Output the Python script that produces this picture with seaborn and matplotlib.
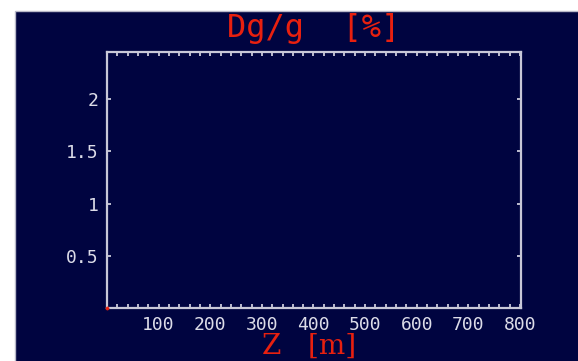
import matplotlib
matplotlib.use("Agg")
import matplotlib.pyplot as plt
from matplotlib.patches import Rectangle
from matplotlib.ticker import MultipleLocator, FixedLocator
import numpy as np
import pandas as pd
import seaborn as sns

# data
z_values = [0.0]
dg_values = [0.0]
x_ticks = [100, 200, 300, 400, 500, 600, 700, 800]
y_ticks = [0.5, 1, 1.5, 2]
y_tick_labels = ["0.5", "1", "1.5", "2"]
title_text = "Dg/g  [%]"
xlabel_text = "Z   [m]"

NAVY = "#000440"
RED = "#e8200f"
FG = "#dcdce8"

sns.set_style("dark", {"axes.facecolor": NAVY, "figure.facecolor": "white"})
plt.rcParams["font.family"] = ["DejaVu Sans Mono", "DejaVu Sans"]

fig = plt.figure(figsize=(5.78, 3.61), dpi=100)
fig.patches.append(Rectangle((15 / 578, -0.1), 1.0, 0.1 + 350 / 361,
                             transform=fig.transFigure, facecolor=NAVY,
                             edgecolor="#b8b8c8", linewidth=1.0, zorder=-10))

ax = fig.add_axes([107 / 578, (361 - 308) / 361, 414 / 578, 256 / 361])
ax.set_zorder(5)
ax.set_facecolor(NAVY)

df = pd.DataFrame({"Z": z_values, "Dg": dg_values})
sns.scatterplot(data=df, x="Z", y="Dg", ax=ax, color=RED, s=6,
                edgecolor=RED, clip_on=False, zorder=5, legend=False)

ax.set_xlim(0, 802)
ax.set_ylim(0, 2.45)
ax.grid(False)

ax.xaxis.set_major_locator(FixedLocator(x_ticks))
ax.xaxis.set_minor_locator(MultipleLocator(20))
ax.yaxis.set_major_locator(FixedLocator(y_ticks))
ax.set_yticklabels(y_tick_labels)

ax.tick_params(axis="both", which="both", direction="in", colors=FG,
               labelcolor=FG, labelsize=13, top=True, right=True,
               bottom=True, left=True)
ax.tick_params(axis="both", which="major", length=3, width=1.2)
ax.tick_params(axis="x", which="minor", length=3, width=1.2)
ax.tick_params(axis="x", which="major", pad=6)
ax.tick_params(axis="y", which="major", pad=6)

for sp in ax.spines.values():
    sp.set_visible(True)
    sp.set_color("#c8c8d8")
    sp.set_linewidth(1.6)

ax.set_title(title_text, color=RED, fontsize=23, pad=11,
             fontfamily="DejaVu Sans Mono")
ax.set_xlabel(xlabel_text, color=RED, fontsize=20,
              fontfamily="DejaVu Serif", fontweight="light")
ax.xaxis.set_label_coords(0.488, -0.095)
ax.set_ylabel("")

fig.savefig("out.png", dpi=100)
